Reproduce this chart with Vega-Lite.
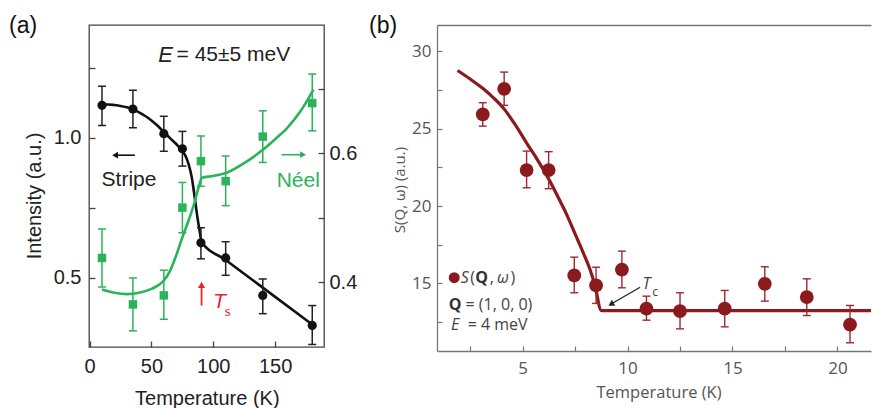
{
  "$schema": "https://vega.github.io/schema/vega-lite/v6.json",
  "background": "white",
  "padding": {"left": 8, "top": 14, "right": 0, "bottom": 0},
  "spacing": 113,
  "bounds": "flush",
  "config": {
    "view": {"stroke": null},
    "axis": {"grid": false, "labelOverlap": false, "labelFlush": false}
  },
  "hconcat": [
    {
      "width": 235,
      "height": 322,
      "view": {"stroke": "#444", "strokeWidth": 1.3},
      "title": {"text": "(a)", "anchor": "start", "frame": "group", "dx": -80, "dy": 31, "offset": 0, "baseline": "alphabetic", "font": "Liberation Sans", "fontSize": 23, "fontWeight": "normal", "color": "#111"},
      "resolve": {"scale": {"y": "independent"}},
      "layer": [
        {
          "layer": [
            {
              "data": {"values": [
                {"T": 10, "I": 1.118}, {"T": 15, "I": 1.118}, {"T": 20, "I": 1.116}, {"T": 25, "I": 1.113},
                {"T": 30, "I": 1.108}, {"T": 35, "I": 1.101}, {"T": 40, "I": 1.09}, {"T": 45, "I": 1.077},
                {"T": 50, "I": 1.061}, {"T": 55, "I": 1.042}, {"T": 60, "I": 1.02}, {"T": 65, "I": 0.998},
                {"T": 70, "I": 0.977}, {"T": 75, "I": 0.952}, {"T": 78, "I": 0.93}, {"T": 80, "I": 0.905},
                {"T": 82.5, "I": 0.86}, {"T": 85, "I": 0.785}, {"T": 87, "I": 0.72}, {"T": 89, "I": 0.665},
                {"T": 90.5, "I": 0.628}, {"T": 110, "I": 0.563}, {"T": 140, "I": 0.464}, {"T": 181, "I": 0.329}
              ]},
              "mark": {"type": "line", "color": "#111", "strokeWidth": 2.6, "interpolate": "monotone"},
              "encoding": {
                "x": {"field": "T", "type": "quantitative", "scale": {"domain": [-0.5, 189.5], "nice": false, "zero": false},
                  "axis": {"orient": "bottom", "values": [0, 25, 50, 75, 100, 125, 150, 175],
                    "labelExpr": "datum.value % 50 === 0 ? format(datum.value, 'd') : ''",
                    "domain": false, "ticks": true, "tickSize": -6, "tickColor": "#444", "tickWidth": 1.3,
                    "labelFont": "Liberation Sans", "labelFontSize": 20, "labelColor": "#222", "labelPadding": 25.5, "labelBaseline": "middle",
                    "title": "Temperature (K)", "titleFont": "Liberation Sans", "titleFontSize": 20, "titleFontWeight": "normal", "titleColor": "#222",
                    "titleX": 117.8, "titleY": 51, "titleBaseline": "middle", "titleAlign": "center"}},
                "y": {"field": "I", "type": "quantitative", "scale": {"domain": [0.252, 1.402], "nice": false, "zero": false},
                  "axis": {"orient": "left", "values": [0.5, 0.75, 1.0, 1.25],
                    "labelExpr": "datum.value === 0.5 || datum.value === 1 ? format(datum.value, '.1f') : ''",
                    "domain": false, "ticks": true, "tickSize": -6, "tickColor": "#444", "tickWidth": 1.3,
                    "labelFont": "Liberation Sans", "labelFontSize": 20, "labelColor": "#222", "labelPadding": 14, "labelBaseline": "middle",
                    "title": "Intensity (a.u.)", "titleFont": "Liberation Sans", "titleFontSize": 20, "titleFontWeight": "normal", "titleColor": "#222",
                    "titleX": -55, "titleY": 170.5, "titleBaseline": "middle", "titleAlign": "center", "titleAngle": 270}}
              }
            },
            {
              "data": {"values": [
                {"T": 10, "I": 1.115, "lo": 1.043, "hi": 1.183},
                {"T": 35, "I": 1.102, "lo": 1.035, "hi": 1.169},
                {"T": 60, "I": 1.014, "lo": 0.951, "hi": 1.076},
                {"T": 75, "I": 0.96, "lo": 0.898, "hi": 1.022},
                {"T": 90, "I": 0.624, "lo": 0.567, "hi": 0.678},
                {"T": 110, "I": 0.57, "lo": 0.508, "hi": 0.628},
                {"T": 140, "I": 0.436, "lo": 0.371, "hi": 0.495},
                {"T": 180, "I": 0.329, "lo": 0.261, "hi": 0.4}
              ]},
              "layer": [
                {
                  "mark": {"type": "rule", "color": "#222", "strokeWidth": 1.5},
                  "encoding": {
                    "x": {"field": "T", "type": "quantitative", "scale": {"domain": [-0.5, 189.5], "nice": false, "zero": false}},
                    "y": {"field": "lo", "type": "quantitative", "scale": {"domain": [0.252, 1.402], "nice": false, "zero": false}},
                    "y2": {"field": "hi"}
                  }
                },
                {
                  "mark": {"type": "tick", "orient": "horizontal", "size": 8, "thickness": 1.5, "color": "#222", "opacity": 1},
                  "encoding": {
                    "x": {"field": "T", "type": "quantitative", "scale": {"domain": [-0.5, 189.5], "nice": false, "zero": false}},
                    "y": {"field": "lo", "type": "quantitative", "scale": {"domain": [0.252, 1.402], "nice": false, "zero": false}}
                  }
                },
                {
                  "mark": {"type": "tick", "orient": "horizontal", "size": 8, "thickness": 1.5, "color": "#222", "opacity": 1},
                  "encoding": {
                    "x": {"field": "T", "type": "quantitative", "scale": {"domain": [-0.5, 189.5], "nice": false, "zero": false}},
                    "y": {"field": "hi", "type": "quantitative", "scale": {"domain": [0.252, 1.402], "nice": false, "zero": false}}
                  }
                },
                {
                  "mark": {"type": "point", "shape": "circle", "filled": true, "size": 85, "color": "#111", "opacity": 1},
                  "encoding": {
                    "x": {"field": "T", "type": "quantitative", "scale": {"domain": [-0.5, 189.5], "nice": false, "zero": false}},
                    "y": {"field": "I", "type": "quantitative", "scale": {"domain": [0.252, 1.402], "nice": false, "zero": false}}
                  }
                }
              ]
            },
            {
              "data": {"values": [
                {"T": 9.7, "I": 0.85, "label": "Stripe"},
                {"T": 70.3, "I": 1.296, "label": "= 45±5 meV"}
              ]},
              "mark": {"type": "text", "align": "left", "baseline": "middle", "font": "Liberation Sans", "fontSize": 21, "color": "#222"},
              "encoding": {
                "x": {"field": "T", "type": "quantitative", "scale": {"domain": [-0.5, 189.5], "nice": false, "zero": false}},
                "y": {"field": "I", "type": "quantitative", "scale": {"domain": [0.252, 1.402], "nice": false, "zero": false}},
                "text": {"field": "label"}
              }
            },
            {
              "data": {"values": [{"T": 55.5, "I": 1.296, "label": "E"}]},
              "mark": {"type": "text", "align": "left", "baseline": "middle", "font": "Liberation Sans", "fontSize": 22, "fontStyle": "italic", "color": "#222"},
              "encoding": {
                "x": {"field": "T", "type": "quantitative", "scale": {"domain": [-0.5, 189.5], "nice": false, "zero": false}},
                "y": {"field": "I", "type": "quantitative", "scale": {"domain": [0.252, 1.402], "nice": false, "zero": false}},
                "text": {"field": "label"}
              }
            },
            {
              "data": {"values": [{"T": 20, "T2": 36.6, "I": 0.937}]},
              "mark": {"type": "rule", "color": "#111", "strokeWidth": 1.6},
              "encoding": {
                "x": {"field": "T", "type": "quantitative", "scale": {"domain": [-0.5, 189.5], "nice": false, "zero": false}},
                "x2": {"field": "T2"},
                "y": {"field": "I", "type": "quantitative", "scale": {"domain": [0.252, 1.402], "nice": false, "zero": false}}
              }
            },
            {
              "data": {"values": [{"T": 20.6, "I": 0.937}]},
              "mark": {"type": "point", "shape": "triangle-left", "filled": true, "size": 45, "color": "#111", "opacity": 1},
              "encoding": {
                "x": {"field": "T", "type": "quantitative", "scale": {"domain": [-0.5, 189.5], "nice": false, "zero": false}},
                "y": {"field": "I", "type": "quantitative", "scale": {"domain": [0.252, 1.402], "nice": false, "zero": false}}
              }
            },
            {
              "data": {"values": [{"T": 90.5, "I": 0.4, "I2": 0.474}]},
              "mark": {"type": "rule", "color": "#e8232b", "strokeWidth": 1.8},
              "encoding": {
                "x": {"field": "T", "type": "quantitative", "scale": {"domain": [-0.5, 189.5], "nice": false, "zero": false}},
                "y": {"field": "I", "type": "quantitative", "scale": {"domain": [0.252, 1.402], "nice": false, "zero": false}},
                "y2": {"field": "I2"}
              }
            },
            {
              "data": {"values": [{"T": 90.5, "I": 0.474}]},
              "mark": {"type": "point", "shape": "triangle-up", "filled": true, "size": 50, "color": "#e8232b", "opacity": 1},
              "encoding": {
                "x": {"field": "T", "type": "quantitative", "scale": {"domain": [-0.5, 189.5], "nice": false, "zero": false}},
                "y": {"field": "I", "type": "quantitative", "scale": {"domain": [0.252, 1.402], "nice": false, "zero": false}}
              }
            },
            {
              "data": {"values": [{"T": 99.8, "I": 0.4125, "label": "T"}]},
              "mark": {"type": "text", "align": "left", "baseline": "middle", "font": "Liberation Sans", "fontSize": 21, "fontStyle": "italic", "color": "#e8232b"},
              "encoding": {
                "x": {"field": "T", "type": "quantitative", "scale": {"domain": [-0.5, 189.5], "nice": false, "zero": false}},
                "y": {"field": "I", "type": "quantitative", "scale": {"domain": [0.252, 1.402], "nice": false, "zero": false}},
                "text": {"field": "label"}
              }
            },
            {
              "data": {"values": [{"T": 109.2, "I": 0.382, "label": "s"}]},
              "mark": {"type": "text", "align": "left", "baseline": "middle", "font": "Liberation Serif", "fontSize": 15, "color": "#e8232b"},
              "encoding": {
                "x": {"field": "T", "type": "quantitative", "scale": {"domain": [-0.5, 189.5], "nice": false, "zero": false}},
                "y": {"field": "I", "type": "quantitative", "scale": {"domain": [0.252, 1.402], "nice": false, "zero": false}},
                "text": {"field": "label"}
              }
            }
          ]
        },
        {
          "layer": [
            {
              "data": {"values": [
                {"T": 10, "N": 0.389}, {"T": 20, "N": 0.384}, {"T": 30, "N": 0.382}, {"T": 40, "N": 0.384},
                {"T": 50, "N": 0.39}, {"T": 55, "N": 0.395}, {"T": 60, "N": 0.403}, {"T": 65, "N": 0.418},
                {"T": 70, "N": 0.442}, {"T": 75, "N": 0.47}, {"T": 80, "N": 0.496}, {"T": 83, "N": 0.513},
                {"T": 85, "N": 0.525}, {"T": 87, "N": 0.54}, {"T": 89, "N": 0.553}, {"T": 90.5, "N": 0.562},
                {"T": 100, "N": 0.565}, {"T": 112, "N": 0.571}, {"T": 125, "N": 0.585}, {"T": 139, "N": 0.604},
                {"T": 150, "N": 0.622}, {"T": 160, "N": 0.64}, {"T": 170, "N": 0.664}, {"T": 181, "N": 0.699}
              ]},
              "mark": {"type": "line", "color": "#2bb35a", "strokeWidth": 2.6, "interpolate": "monotone"},
              "encoding": {
                "x": {"field": "T", "type": "quantitative", "scale": {"domain": [-0.5, 189.5], "nice": false, "zero": false}},
                "y": {"field": "N", "type": "quantitative", "scale": {"domain": [0.3, 0.799], "nice": false, "zero": false},
                  "axis": {"orient": "right", "values": [0.4, 0.5, 0.6, 0.7],
                    "labelExpr": "datum.value === 0.4 || datum.value === 0.6 ? format(datum.value, '.1f') : ''",
                    "domain": false, "ticks": true, "tickSize": -6, "tickColor": "#444", "tickWidth": 1.3,
                    "labelFont": "Liberation Sans", "labelFontSize": 20, "labelColor": "#222", "labelPadding": 11, "labelBaseline": "middle",
                    "title": null}}
              }
            },
            {
              "data": {"values": [
                {"T": 10, "N": 0.438, "lo": 0.393, "hi": 0.483},
                {"T": 35, "N": 0.366, "lo": 0.325, "hi": 0.407},
                {"T": 60, "N": 0.38, "lo": 0.343, "hi": 0.419},
                {"T": 75, "N": 0.516, "lo": 0.477, "hi": 0.555},
                {"T": 90, "N": 0.588, "lo": 0.549, "hi": 0.627},
                {"T": 110, "N": 0.557, "lo": 0.519, "hi": 0.596},
                {"T": 140, "N": 0.626, "lo": 0.586, "hi": 0.666},
                {"T": 180, "N": 0.678, "lo": 0.635, "hi": 0.723}
              ]},
              "layer": [
                {
                  "mark": {"type": "rule", "color": "#2bb35a", "strokeWidth": 1.5},
                  "encoding": {
                    "x": {"field": "T", "type": "quantitative", "scale": {"domain": [-0.5, 189.5], "nice": false, "zero": false}},
                    "y": {"field": "lo", "type": "quantitative", "scale": {"domain": [0.3, 0.799], "nice": false, "zero": false}},
                    "y2": {"field": "hi"}
                  }
                },
                {
                  "mark": {"type": "tick", "orient": "horizontal", "size": 8, "thickness": 1.5, "color": "#2bb35a", "opacity": 1},
                  "encoding": {
                    "x": {"field": "T", "type": "quantitative", "scale": {"domain": [-0.5, 189.5], "nice": false, "zero": false}},
                    "y": {"field": "lo", "type": "quantitative", "scale": {"domain": [0.3, 0.799], "nice": false, "zero": false}}
                  }
                },
                {
                  "mark": {"type": "tick", "orient": "horizontal", "size": 8, "thickness": 1.5, "color": "#2bb35a", "opacity": 1},
                  "encoding": {
                    "x": {"field": "T", "type": "quantitative", "scale": {"domain": [-0.5, 189.5], "nice": false, "zero": false}},
                    "y": {"field": "hi", "type": "quantitative", "scale": {"domain": [0.3, 0.799], "nice": false, "zero": false}}
                  }
                },
                {
                  "mark": {"type": "point", "shape": "square", "filled": true, "size": 72, "color": "#2bb35a", "opacity": 1},
                  "encoding": {
                    "x": {"field": "T", "type": "quantitative", "scale": {"domain": [-0.5, 189.5], "nice": false, "zero": false}},
                    "y": {"field": "N", "type": "quantitative", "scale": {"domain": [0.3, 0.799], "nice": false, "zero": false}}
                  }
                }
              ]
            },
            {
              "data": {"values": [{"T": 151.2, "N": 0.557, "label": "Néel"}]},
              "mark": {"type": "text", "align": "left", "baseline": "middle", "font": "Liberation Sans", "fontSize": 21, "color": "#2bb35a"},
              "encoding": {
                "x": {"field": "T", "type": "quantitative", "scale": {"domain": [-0.5, 189.5], "nice": false, "zero": false}},
                "y": {"field": "N", "type": "quantitative", "scale": {"domain": [0.3, 0.799], "nice": false, "zero": false}},
                "text": {"field": "label"}
              }
            },
            {
              "data": {"values": [{"T": 155.2, "T2": 172, "N": 0.598}]},
              "mark": {"type": "rule", "color": "#2bb35a", "strokeWidth": 1.6},
              "encoding": {
                "x": {"field": "T", "type": "quantitative", "scale": {"domain": [-0.5, 189.5], "nice": false, "zero": false}},
                "x2": {"field": "T2"},
                "y": {"field": "N", "type": "quantitative", "scale": {"domain": [0.3, 0.799], "nice": false, "zero": false}}
              }
            },
            {
              "data": {"values": [{"T": 172.6, "N": 0.598}]},
              "mark": {"type": "point", "shape": "triangle-right", "filled": true, "size": 45, "color": "#2bb35a", "opacity": 1},
              "encoding": {
                "x": {"field": "T", "type": "quantitative", "scale": {"domain": [-0.5, 189.5], "nice": false, "zero": false}},
                "y": {"field": "N", "type": "quantitative", "scale": {"domain": [0.3, 0.799], "nice": false, "zero": false}}
              }
            }
          ]
        }
      ]
    },
    {
      "width": 434,
      "height": 326,
      "title": {"text": "(b)", "anchor": "start", "frame": "group", "dx": -68, "dy": 31, "offset": 0, "baseline": "alphabetic", "font": "Liberation Sans", "fontSize": 23, "fontWeight": "normal", "color": "#111"},
      "resolve": {"axis": {"x": "independent"}},
      "layer": [
        {
          "layer": [
            {
              "data": {"values": [
                {"T": 1.9, "S": 28.75}, {"T": 2.5, "S": 28.2}, {"T": 3.1, "S": 27.6}, {"T": 3.6, "S": 27.0},
                {"T": 4.1, "S": 26.3}, {"T": 4.6, "S": 25.35}, {"T": 5.2, "S": 24.05}, {"T": 5.7, "S": 23.0},
                {"T": 6.2, "S": 21.85}, {"T": 6.7, "S": 20.55}, {"T": 7.1, "S": 19.45}, {"T": 7.5, "S": 18.2},
                {"T": 7.9, "S": 16.95}, {"T": 8.2, "S": 15.95}, {"T": 8.45, "S": 14.85}, {"T": 8.75, "S": 13.25},
                {"T": 21.6, "S": 13.25}
              ]},
              "mark": {"type": "line", "color": "#8b1a1f", "strokeWidth": 3.2, "interpolate": "monotone"},
              "encoding": {
                "x": {"field": "T", "type": "quantitative", "scale": {"domain": [0.92, 21.6], "nice": false, "zero": false},
                  "axis": {"orient": "bottom", "values": [2.5, 5, 7.5, 10, 12.5, 15, 17.5, 20],
                    "labelExpr": "datum.value % 5 === 0 ? format(datum.value, 'd') : ''",
                    "domain": true, "domainColor": "#777", "domainWidth": 1.3,
                    "ticks": true, "tickSize": -5, "tickColor": "#777", "tickWidth": 1.2,
                    "labelFont": "Open Sans", "labelFontSize": 17, "labelColor": "#555", "labelPadding": 22.8, "labelBaseline": "middle",
                    "title": "Temperature (K)", "titleFont": "Open Sans", "titleFontSize": 16.5, "titleFontWeight": "normal", "titleColor": "#555",
                    "titleX": 221.5, "titleY": 41.5, "titleBaseline": "middle", "titleAlign": "center"}},
                "y": {"field": "S", "type": "quantitative", "scale": {"domain": [10.64, 31.69], "nice": false, "zero": false},
                  "axis": {"orient": "left", "values": [12.5, 15, 17.5, 20, 22.5, 25, 27.5, 30],
                    "labelExpr": "datum.value % 5 === 0 ? format(datum.value, 'd') : ''",
                    "domain": true, "domainColor": "#777", "domainWidth": 1.3,
                    "ticks": true, "tickSize": -5, "tickColor": "#777", "tickWidth": 1.2,
                    "labelFont": "Open Sans", "labelFontSize": 17, "labelColor": "#555", "labelPadding": 11, "labelBaseline": "middle",
                    "title": "S(Q, ω) (a.u.)", "titleFont": "Open Sans", "titleFontSize": 15, "titleFontWeight": "normal", "titleColor": "#555",
                    "titleX": -38, "titleY": 164.5, "titleBaseline": "middle", "titleAlign": "center", "titleAngle": 270}}
              }
            },
            {
              "data": {"values": [
                {"T": 3.1, "S": 25.92, "lo": 25.16, "hi": 26.67},
                {"T": 4.12, "S": 27.57, "lo": 26.5, "hi": 28.65},
                {"T": 5.19, "S": 22.32, "lo": 21.18, "hi": 23.55},
                {"T": 6.24, "S": 22.32, "lo": 21.12, "hi": 23.51},
                {"T": 7.46, "S": 15.52, "lo": 14.4, "hi": 16.7},
                {"T": 8.5, "S": 14.87, "lo": 13.71, "hi": 16.05},
                {"T": 9.73, "S": 15.9, "lo": 14.72, "hi": 17.09},
                {"T": 10.9, "S": 13.37, "lo": 12.63, "hi": 14.18},
                {"T": 12.5, "S": 13.21, "lo": 12.07, "hi": 14.4},
                {"T": 14.63, "S": 13.37, "lo": 12.2, "hi": 14.55},
                {"T": 16.54, "S": 14.98, "lo": 13.86, "hi": 16.08},
                {"T": 18.54, "S": 14.12, "lo": 12.93, "hi": 15.3},
                {"T": 20.6, "S": 12.35, "lo": 11.17, "hi": 13.58}
              ]},
              "layer": [
                {
                  "mark": {"type": "rule", "color": "#9a2a30", "strokeWidth": 1.4},
                  "encoding": {
                    "x": {"field": "T", "type": "quantitative", "scale": {"domain": [0.92, 21.6], "nice": false, "zero": false}},
                    "y": {"field": "lo", "type": "quantitative", "scale": {"domain": [10.64, 31.69], "nice": false, "zero": false}},
                    "y2": {"field": "hi"}
                  }
                },
                {
                  "mark": {"type": "tick", "orient": "horizontal", "size": 8, "thickness": 1.4, "color": "#9a2a30", "opacity": 1},
                  "encoding": {
                    "x": {"field": "T", "type": "quantitative", "scale": {"domain": [0.92, 21.6], "nice": false, "zero": false}},
                    "y": {"field": "lo", "type": "quantitative", "scale": {"domain": [10.64, 31.69], "nice": false, "zero": false}}
                  }
                },
                {
                  "mark": {"type": "tick", "orient": "horizontal", "size": 8, "thickness": 1.4, "color": "#9a2a30", "opacity": 1},
                  "encoding": {
                    "x": {"field": "T", "type": "quantitative", "scale": {"domain": [0.92, 21.6], "nice": false, "zero": false}},
                    "y": {"field": "hi", "type": "quantitative", "scale": {"domain": [10.64, 31.69], "nice": false, "zero": false}}
                  }
                },
                {
                  "mark": {"type": "point", "shape": "circle", "filled": true, "size": 190, "color": "#8b1a1f", "opacity": 1},
                  "encoding": {
                    "x": {"field": "T", "type": "quantitative", "scale": {"domain": [0.92, 21.6], "nice": false, "zero": false}},
                    "y": {"field": "S", "type": "quantitative", "scale": {"domain": [10.64, 31.69], "nice": false, "zero": false}}
                  }
                }
              ]
            },
            {
              "data": {"values": [{"T": 1.74, "S": 15.37}]},
              "mark": {"type": "point", "shape": "circle", "filled": true, "size": 120, "color": "#8b1a1f", "opacity": 1},
              "encoding": {
                "x": {"field": "T", "type": "quantitative", "scale": {"domain": [0.92, 21.6], "nice": false, "zero": false}},
                "y": {"field": "S", "type": "quantitative", "scale": {"domain": [10.64, 31.69], "nice": false, "zero": false}}
              }
            },
            {
              "data": {"values": [
                {"T": 2.5, "S": 15.37, "label": "("},
                {"T": 3.43, "S": 15.37, "label": ","},
                {"T": 4.42, "S": 15.37, "label": ")"},
                {"T": 2.28, "S": 13.64, "label": "= (1, 0, 0)"},
                {"T": 2.38, "S": 12.35, "label": "= 4 meV"}
              ]},
              "mark": {"type": "text", "align": "left", "baseline": "middle", "font": "Open Sans", "fontSize": 16, "color": "#444"},
              "encoding": {
                "x": {"field": "T", "type": "quantitative", "scale": {"domain": [0.92, 21.6], "nice": false, "zero": false}},
                "y": {"field": "S", "type": "quantitative", "scale": {"domain": [10.64, 31.69], "nice": false, "zero": false}},
                "text": {"field": "label"}
              }
            },
            {
              "data": {"values": [
                {"T": 2.05, "S": 15.37, "label": "S"},
                {"T": 3.78, "S": 15.37, "label": "ω"},
                {"T": 1.586, "S": 12.35, "label": "E"},
                {"T": 10.71, "S": 14.94, "label": "T"}
              ]},
              "mark": {"type": "text", "align": "left", "baseline": "middle", "font": "Open Sans", "fontSize": 16, "fontStyle": "italic", "color": "#444"},
              "encoding": {
                "x": {"field": "T", "type": "quantitative", "scale": {"domain": [0.92, 21.6], "nice": false, "zero": false}},
                "y": {"field": "S", "type": "quantitative", "scale": {"domain": [10.64, 31.69], "nice": false, "zero": false}},
                "text": {"field": "label"}
              }
            },
            {
              "data": {"values": [
                {"T": 2.74, "S": 15.37, "label": "Q"},
                {"T": 1.48, "S": 13.64, "label": "Q"}
              ]},
              "mark": {"type": "text", "align": "left", "baseline": "middle", "font": "Open Sans", "fontSize": 16, "fontWeight": "bold", "color": "#333"},
              "encoding": {
                "x": {"field": "T", "type": "quantitative", "scale": {"domain": [0.92, 21.6], "nice": false, "zero": false}},
                "y": {"field": "S", "type": "quantitative", "scale": {"domain": [10.64, 31.69], "nice": false, "zero": false}},
                "text": {"field": "label"}
              }
            },
            {
              "data": {"values": [{"T": 11.18, "S": 14.45, "label": "c"}]},
              "mark": {"type": "text", "align": "left", "baseline": "middle", "font": "Open Sans", "fontSize": 12, "color": "#444"},
              "encoding": {
                "x": {"field": "T", "type": "quantitative", "scale": {"domain": [0.92, 21.6], "nice": false, "zero": false}},
                "y": {"field": "S", "type": "quantitative", "scale": {"domain": [10.64, 31.69], "nice": false, "zero": false}},
                "text": {"field": "label"}
              }
            },
            {
              "data": {"values": [{"T": 9.21, "S": 13.66}]},
              "mark": {"type": "point", "shape": "triangle-up", "angle": 240, "filled": true, "size": 45, "color": "#222", "opacity": 1},
              "encoding": {
                "x": {"field": "T", "type": "quantitative", "scale": {"domain": [0.92, 21.6], "nice": false, "zero": false}},
                "y": {"field": "S", "type": "quantitative", "scale": {"domain": [10.64, 31.69], "nice": false, "zero": false}}
              }
            }
          ]
        },
        {
          "data": {"values": [{"T": 10.6, "T2": 9.3, "S": 14.76, "S2": 13.74}]},
          "mark": {"type": "rule", "color": "#222", "strokeWidth": 1.3},
          "encoding": {
            "x": {"field": "T", "type": "quantitative", "scale": {"domain": [0.92, 21.6], "nice": false, "zero": false},
              "axis": {"orient": "top", "domain": true, "domainColor": "#777", "domainWidth": 1.3, "ticks": false, "labels": false, "title": null}},
            "x2": {"field": "T2"},
            "y": {"field": "S", "type": "quantitative", "scale": {"domain": [10.64, 31.69], "nice": false, "zero": false}},
            "y2": {"field": "S2"}
          }
        }
      ]
    }
  ]
}
